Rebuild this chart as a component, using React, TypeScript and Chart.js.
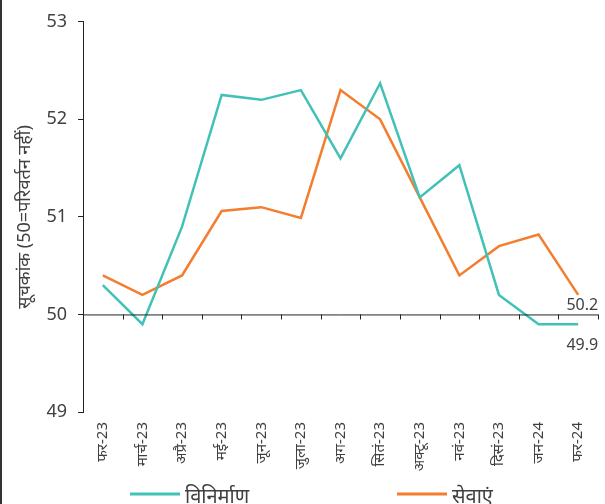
import React, { useEffect, useRef } from "react";
import { Chart, registerables } from "chart.js";

Chart.register(...registerables);

const categories = ["फर-23", "मार्च-23", "अप्रै-23", "मई-23", "जून-23", "जुला-23", "अग-23", "सितं-23", "अक्टू-23", "नवं-23", "दिसं-23", "जन-24", "फर-24"];
const manufacturing = [50.3, 49.9, 50.9, 52.25, 52.2, 52.3, 51.6, 52.37, 51.2, 51.53, 50.2, 49.9, 49.9];
const services = [50.4, 50.2, 50.4, 51.06, 51.1, 50.99, 52.3, 52.0, 51.2, 50.4, 50.7, 50.82, 50.2];
const seriesNames = ["विनिर्माण", "सेवाएं"];
const yTitle = "सूचकांक (50=परिवर्तन नहीं)";
const yTicks = [49, 50, 51, 52, 53];
const baseValue = 50;

const TEAL = "#42C1B7";
const ORANGE = "#F37E2F";
const TEXT = "#404040";
const FONT = "'Noto Sans', 'Open Sans', sans-serif";

const overlay = {
  id: "overlay",
  afterDatasetsDraw(chart: any) {
    const { ctx, chartArea, scales } = chart;
    const x = scales.x;
    const y = scales.y;
    const y0 = y.getPixelForValue(baseValue);
    ctx.save();
    ctx.strokeStyle = "#222";
    ctx.lineWidth = 1;
    ctx.beginPath();
    ctx.moveTo(chartArea.left, y0 + 0.5);
    ctx.lineTo(chartArea.right, y0 + 0.5);
    const step = x.getPixelForValue(1) - x.getPixelForValue(0);
    for (let i = 0; i < categories.length; i++) {
      const px = Math.round(x.getPixelForValue(i) + step / 2) + 0.5;
      ctx.moveTo(px, y0);
      ctx.lineTo(px, y0 + 5);
    }
    ctx.stroke();

    // end labels
    ctx.fillStyle = TEXT;
    ctx.font = `16px ${FONT}`;
    ctx.textAlign = "right";
    ctx.textBaseline = "middle";
    const last = categories.length - 1;
    const mPt = chart.getDatasetMeta(0).data[last];
    const sPt = chart.getDatasetMeta(1).data[last];
    ctx.fillText(String(services[last].toFixed(1)), sPt.x + 20, sPt.y + 10);
    ctx.fillText(String(manufacturing[last].toFixed(1)), mPt.x + 20, mPt.y + 21);

    // legend
    const items = [
      { label: seriesNames[0], color: TEAL, x: 128 },
      { label: seriesNames[1], color: ORANGE, x: 395 },
    ];
    ctx.textAlign = "left";
    ctx.textBaseline = "alphabetic";
    ctx.font = `20px ${FONT}`;
    for (const it of items) {
      ctx.strokeStyle = it.color;
      ctx.lineWidth = 3;
      ctx.beginPath();
      ctx.moveTo(it.x, 494);
      ctx.lineTo(it.x + 50, 494);
      ctx.stroke();
      ctx.fillStyle = TEXT;
      ctx.fillText(it.label, it.x + 55, 503);
    }
    ctx.restore();
  },
};

export default function App() {
  const ref = useRef<HTMLCanvasElement>(null);
  useEffect(() => {
    if (!ref.current) return;
    const chart = new Chart(ref.current, {
      type: "line",
      data: {
        labels: categories,
        datasets: [
          { label: seriesNames[0], data: manufacturing, borderColor: TEAL, backgroundColor: TEAL, borderWidth: 2.5, pointRadius: 0, tension: 0 },
          { label: seriesNames[1], data: services, borderColor: ORANGE, backgroundColor: ORANGE, borderWidth: 2.5, pointRadius: 0, tension: 0 },
        ],
      },
      options: {
        animation: false,
        responsive: false,
        layout: { padding: { top: 20, right: 7, left: 0, bottom: 0 } },
        plugins: { legend: { display: false }, tooltip: { enabled: false } },
        scales: {
          x: {
            offset: true,
            grid: { display: false },
            border: { display: false },
            ticks: { color: TEXT, font: { family: FONT, size: 15 }, minRotation: 90, maxRotation: 90, autoSkip: false, padding: 2 },
            afterFit(scale: any) { scale.height = 92; },
          },
          y: {
            min: 49,
            max: 53,
            afterBuildTicks(scale: any) { scale.ticks = yTicks.map((v) => ({ value: v })); },
            grid: { drawOnChartArea: false, tickLength: 5, color: "#222" },
            border: { display: true, color: "#222" },
            ticks: { color: TEXT, font: { family: FONT, size: 18 }, padding: 11 },
            title: { display: true, text: yTitle, color: TEXT, font: { family: FONT, size: 18 }, padding: { top: 12, bottom: 0 } },
            afterFit(scale: any) { scale.width = 81; },
          },
        },
      },
      plugins: [overlay],
    });
    return () => chart.destroy();
  }, []);
  return (
    <div style={{ position: "fixed", left: 0, top: 0, width: 605, height: 504, background: "#fff", borderLeft: "2px solid #333", boxSizing: "border-box" }}>
      <canvas ref={ref} width={603} height={504} style={{ display: "block" }} />
    </div>
  );
}
